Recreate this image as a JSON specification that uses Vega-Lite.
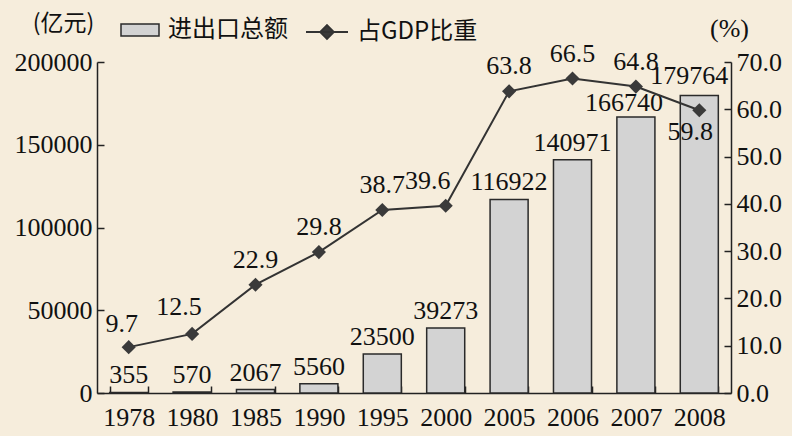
{
  "$schema": "https://vega.github.io/schema/vega-lite/v6.json",
  "width": 634,
  "height": 331,
  "autosize": "none",
  "padding": {"left": 97, "top": 62, "right": 61, "bottom": 43},
  "background": "#F6EDDC",
  "config": {
    "view": {"stroke": null},
    "font": "Times New Roman, Liberation Serif, serif",
    "text": {"fontSize": 26, "color": "#111111", "baseline": "alphabetic"},
    "axis": {
      "grid": false,
      "domainColor": "#222222",
      "domainWidth": 1.5,
      "tickColor": "#222222",
      "tickWidth": 1.5,
      "labelColor": "#111111",
      "labelFont": "Times New Roman, Liberation Serif, serif",
      "labelFontSize": 26,
      "titleFont": "Noto Sans CJK SC",
      "titleFontWeight": "normal",
      "titleFontSize": 23,
      "titleColor": "#111111"
    },
    "legend": {
      "labelFont": "Noto Sans CJK SC",
      "labelFontSize": 24,
      "labelColor": "#111111",
      "title": null
    }
  },
  "data": {
    "values": [
      {"year": "1978", "total": 355, "pct": 9.7},
      {"year": "1980", "total": 570, "pct": 12.5},
      {"year": "1985", "total": 2067, "pct": 22.9},
      {"year": "1990", "total": 5560, "pct": 29.8},
      {"year": "1995", "total": 23500, "pct": 38.7},
      {"year": "2000", "total": 39273, "pct": 39.6},
      {"year": "2005", "total": 116922, "pct": 63.8},
      {"year": "2006", "total": 140971, "pct": 66.5},
      {"year": "2007", "total": 166740, "pct": 64.8},
      {"year": "2008", "total": 179764, "pct": 59.8}
    ]
  },
  "encoding": {
    "x": {
      "field": "year",
      "type": "ordinal",
      "scale": {"paddingInner": 0.4, "paddingOuter": 0.2},
      "axis": {
        "title": null,
        "labelAngle": 0,
        "tickBand": "extent",
        "tickSize": -7,
        "labelPadding": 18
      }
    }
  },
  "layer": [
    {
      "layer": [
        {
          "mark": {"type": "bar", "stroke": "#2a2a2a", "strokeWidth": 1.5},
          "encoding": {
            "y": {
              "field": "total",
              "type": "quantitative",
              "scale": {"domain": [0, 200000]},
              "axis": {
                "orient": "left",
                "values": [0, 50000, 100000, 150000, 200000],
                "format": "d",
                "tickSize": -7,
                "labelPadding": 12,
                "title": "(亿元)",
                "titleAngle": 0,
                "titleX": -34,
                "titleY": -39,
                "titleAlign": "center",
                "titleBaseline": "middle"
              }
            },
            "fill": {
              "datum": "进出口总额",
              "scale": {"range": ["#D3D3D3"]},
              "legend": {
                "orient": "none",
                "legendX": 23,
                "legendY": -52,
                "symbolType": "M-1,-0.32H1V0.32H-1Z",
                "symbolSize": 1444,
                "symbolStrokeColor": "#2a2a2a",
                "symbolStrokeWidth": 1.5,
                "labelOffset": 8
              }
            }
          }
        },
        {
          "transform": [{"filter": "datum.year != '2007' && datum.year != '2008'"}],
          "mark": {"type": "text", "dy": -9},
          "encoding": {
            "y": {"field": "total", "type": "quantitative"},
            "text": {"field": "total", "type": "quantitative", "format": "d"}
          }
        },
        {
          "transform": [{"filter": "datum.year == '2007'"}],
          "mark": {"type": "text", "dy": -6, "dx": -12},
          "encoding": {
            "y": {"field": "total", "type": "quantitative"},
            "text": {"field": "total", "type": "quantitative", "format": "d"}
          }
        },
        {
          "transform": [{"filter": "datum.year == '2008'"}],
          "mark": {"type": "text", "dy": -11, "dx": -10},
          "encoding": {
            "y": {"field": "total", "type": "quantitative"},
            "text": {"field": "total", "type": "quantitative", "format": "d"}
          }
        }
      ]
    },
    {
      "layer": [
        {
          "mark": {"type": "line", "strokeWidth": 2},
          "encoding": {
            "y": {
              "field": "pct",
              "type": "quantitative",
              "scale": {"domain": [0, 70]},
              "axis": {
                "orient": "right",
                "values": [0, 10, 20, 30, 40, 50, 60, 70],
                "format": ".1f",
                "tickSize": -7,
                "labelPadding": 12,
                "title": "(%)",
                "titleFont": "Times New Roman, Liberation Serif, serif",
                "titleFontSize": 26,
                "titleAngle": 0,
                "titleX": -2,
                "titleY": -34,
                "titleAlign": "center",
                "titleBaseline": "middle"
              }
            },
            "stroke": {
              "datum": "占GDP比重",
              "scale": {"range": ["#333333"]},
              "legend": {
                "orient": "none",
                "legendX": 208,
                "legendY": -52,
                "symbolType": "M-1,0H1M0,-0.32L0.32,0L0,0.32L-0.32,0Z",
                "symbolSize": 1764,
                "symbolFillColor": "#3a3a3a",
                "symbolStrokeColor": "#2a2a2a",
                "symbolStrokeWidth": 2,
                "labelOffset": 8
              }
            }
          }
        },
        {
          "mark": {"type": "point", "shape": "diamond", "filled": true, "size": 200, "color": "#3a3a3a", "opacity": 1},
          "encoding": {
            "y": {"field": "pct", "type": "quantitative"}
          }
        },
        {
          "transform": [{"filter": "indexof(['1978','1980','2000','2008'], datum.year) < 0"}],
          "mark": {"type": "text", "dy": -17},
          "encoding": {
            "y": {"field": "pct", "type": "quantitative"},
            "text": {"field": "pct", "type": "quantitative", "format": ".1f"}
          }
        },
        {
          "transform": [{"filter": "datum.year == '1978'"}],
          "mark": {"type": "text", "dy": -15, "dx": -7},
          "encoding": {
            "y": {"field": "pct", "type": "quantitative"},
            "text": {"field": "pct", "type": "quantitative", "format": ".1f"}
          }
        },
        {
          "transform": [{"filter": "datum.year == '1980'"}],
          "mark": {"type": "text", "dy": -19, "dx": -13},
          "encoding": {
            "y": {"field": "pct", "type": "quantitative"},
            "text": {"field": "pct", "type": "quantitative", "format": ".1f"}
          }
        },
        {
          "transform": [{"filter": "datum.year == '2000'"}],
          "mark": {"type": "text", "dy": -17, "dx": -18},
          "encoding": {
            "y": {"field": "pct", "type": "quantitative"},
            "text": {"field": "pct", "type": "quantitative", "format": ".1f"}
          }
        },
        {
          "transform": [{"filter": "datum.year == '2008'"}],
          "mark": {"type": "text", "dy": 30, "dx": -9},
          "encoding": {
            "y": {"field": "pct", "type": "quantitative"},
            "text": {"field": "pct", "type": "quantitative", "format": ".1f"}
          }
        }
      ]
    }
  ],
  "resolve": {"scale": {"y": "independent"}}
}
